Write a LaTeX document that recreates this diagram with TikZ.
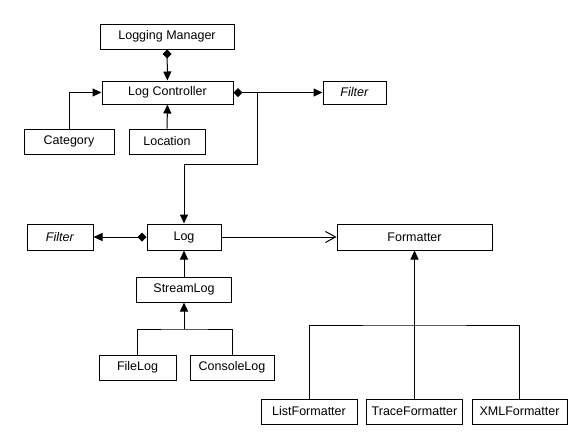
\documentclass[tikz,border=0pt]{standalone}
\usepackage{fontspec}
\setmainfont{Liberation Sans}
\usepackage{tikz}
\usetikzlibrary{positioning}
\usetikzlibrary{arrows.meta}

\begin{document}
\begin{tikzpicture}[x=1pt, y=-1pt, line width=1pt,
            every node/.style={draw, rectangle, inner sep=0pt, minimum height=25pt, font=\fontsize{12.5}{14}\selectfont},
            tri/.style={-{Triangle[length=9pt, width=8pt]}},
            dtri/.style={{Diamond[length=9pt, width=9pt]}-{Triangle[length=9pt, width=8pt]}}]
            \useasboundingbox (0,0) rectangle (576,432);
            % Nodos
            \node[minimum width=134pt] (lm) at (167,36.5) {Logging Manager};
            \node[minimum width=131pt, minimum height=23pt] (lc) at (167.5,92.5) {Log Controller};
            \node[minimum width=63pt, minimum height=23pt] (filtroA) at (354.5,92.5) {\textit{Filter}};
            \node[minimum width=90pt] (cat) at (69,141.5) {Category};
            \node[minimum width=76pt] (loc) at (167,141.5) {Location};
            \node[minimum width=66pt, minimum height=26pt] (filtroB) at (60,237) {\textit{Filter}};
            \node[minimum width=74pt, minimum height=26pt] (log) at (184,237) {Log};
            \node[minimum width=155pt, minimum height=26pt] (fmt) at (414.5,237) {Formatter};
            \node[minimum width=95pt] (stream) at (184,289.5) {StreamLog};
            \node[minimum width=77pt] (file) at (137.5,367.5) {FileLog};
            \node[minimum width=84pt] (console) at (232,367.5) {ConsoleLog};
            \node[minimum width=96pt] (list) at (309,411.5) {ListFormatter};
            \node[minimum width=96pt] (trace) at (414.5,411.5) {TraceFormatter};
            \node[minimum width=95pt] (xml) at (519.5,411.5) {XMLFormatter};
            \coordinate (rama) at (257,92.5);
            \coordinate (codo) at (257,164);
            \coordinate (unionS) at (184,329);
            \coordinate (unionF) at (414.5,325);

            % Aristas
            \draw[dtri] (lm) -- (lc);
            \draw[tri] (cat.north) |- (lc.west);
            \draw[tri] (loc) -- (lc);
            \draw[dtri] (lc) -- (filtroA);
            \draw[tri] (rama) -- (codo) -| (log.north);
            \draw[dtri] (log) -- (filtroB);
            \draw[-{Straight Barb[length=10pt, width=11pt]}] (log) -- (fmt);
            \draw[tri] (stream) -- (log);
            \draw[tri] (unionS) -- (stream);
            \draw (file.north) |- (unionS) -| (console.north);
            \draw[tri] (trace) -- (fmt);
            \draw (list.north) |- (unionF) -| (xml.north);
          \end{tikzpicture}
\end{document}
